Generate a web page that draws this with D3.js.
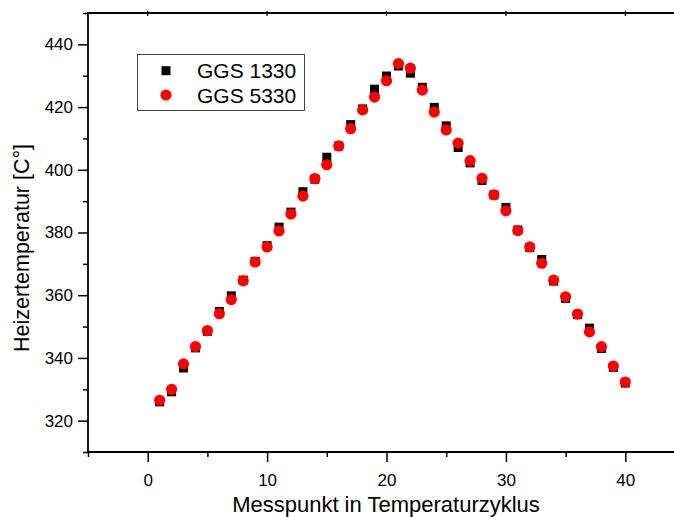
<!DOCTYPE html>
<html>
<head>
<meta charset="utf-8">
<script src="https://cdn.jsdelivr.net/npm/d3@7"></script>
<style>
  html, body { margin: 0; padding: 0; background: #fff; }
  svg { display: block; }
  text { font-family: "Liberation Sans", Arial, sans-serif; fill: #000; }
</style>
</head>
<body>
<svg id="chart" width="674" height="517"></svg>
<script>
// ---- data ----
const messpunkt = d3.range(1, 41);
const ggs1330 = [326.0, 329.2, 336.8, 343.2, 348.5, 354.8, 359.8, 364.8, 370.8, 375.8,
                 381.7, 386.5, 393.0, 397.0, 404.0, 407.6, 414.4, 419.4, 425.7, 429.9,
                 433.1, 430.8, 426.3, 419.9, 414.0, 407.1, 402.2, 396.6, 392.0, 388.0,
                 380.8, 375.2, 371.4, 364.5, 359.0, 353.8, 349.5, 343.0, 337.0, 332.0];
const ggs5330 = [326.5, 330.0, 338.1, 343.6, 348.7, 354.1, 358.6, 364.6, 370.6, 375.4,
                 380.5, 385.9, 391.6, 397.2, 401.6, 407.6, 413.1, 419.1, 423.2, 428.4,
                 433.9, 432.4, 425.4, 418.4, 412.7, 408.5, 402.9, 397.3, 392.0, 386.9,
                 380.6, 375.4, 370.2, 364.8, 359.5, 354.0, 348.3, 343.6, 337.4, 332.3];
const seriesNames = ["GGS 1330", "GGS 5330"];
const xMajorTicks = [0, 10, 20, 30, 40];
const xMinorTicks = [-5, 5, 15, 25, 35, 45];
const yMajorTicks = [320, 340, 360, 380, 400, 420, 440];
const yMinorTicks = [310, 330, 350, 370, 390, 410, 430, 450];
const xTitle = "Messpunkt in Temperaturzyklus";
const yTitle = "Heizertemperatur [C°]";

(function () {
// ---- layout ----
const W = 674, H = 517;
const padL = 88, padT = 13, padB = 452;
const svg = d3.select("#chart");

const x = d3.scaleLinear().domain([-5, 45]).range([padL, padL + 50 * 11.94]);
const y = d3.scaleLinear().domain([310, 450]).range([padB, padT]);

const axisColor = "#000";
const font = '"Liberation Sans", Arial, sans-serif';
const g = svg.append("g");

// bottom axis
const gx = g.append("g").attr("transform", `translate(0,${padB})`)
  .call(d3.axisBottom(x).tickValues(xMajorTicks).tickSize(10).tickSizeOuter(0).tickFormat(d3.format("d")));
gx.select(".domain").remove();
gx.selectAll(".tick line").attr("stroke", axisColor).attr("stroke-width", 1.5);
gx.selectAll(".tick text").attr("font-size", 17).attr("dy", 0).attr("y", 34).style("font-family", font);
const gxm = g.append("g").attr("transform", `translate(0,${padB})`)
  .call(d3.axisBottom(x).tickValues(xMinorTicks.filter(v => x(v) <= W)).tickSize(5).tickSizeOuter(0).tickFormat(""));
gxm.select(".domain").remove();
gxm.selectAll(".tick line").attr("stroke", axisColor).attr("stroke-width", 1.5);

// left axis
const gy = g.append("g").attr("transform", `translate(${padL},0)`)
  .call(d3.axisLeft(y).tickValues(yMajorTicks).tickSize(10).tickSizeOuter(0).tickFormat(d3.format("d")));
gy.select(".domain").remove();
gy.selectAll(".tick line").attr("stroke", axisColor).attr("stroke-width", 1.5);
gy.selectAll(".tick text").attr("font-size", 17).attr("x", -15).style("font-family", font);
const gym = g.append("g").attr("transform", `translate(${padL},0)`)
  .call(d3.axisLeft(y).tickValues(yMinorTicks).tickSize(5).tickSizeOuter(0).tickFormat(""));
gym.select(".domain").remove();
gym.selectAll(".tick line").attr("stroke", axisColor).attr("stroke-width", 1.5);

// top ticks (small, crossing the frame)
g.append("g").selectAll("line").data(xMajorTicks).join("line")
  .attr("x1", d => x(d)).attr("x2", d => x(d))
  .attr("y1", padT - 2).attr("y2", padT + 3)
  .attr("stroke", axisColor).attr("stroke-width", 1.2);

// frame lines
g.append("line").attr("x1", padL).attr("x2", padL).attr("y1", padT).attr("y2", padB)
  .attr("stroke", axisColor).attr("stroke-width", 1.8);
g.append("line").attr("x1", padL - 1).attr("x2", W).attr("y1", padB).attr("y2", padB)
  .attr("stroke", axisColor).attr("stroke-width", 1.8);
g.append("line").attr("x1", padL - 1).attr("x2", W).attr("y1", padT).attr("y2", padT)
  .attr("stroke", axisColor).attr("stroke-width", 1.8);

// axis titles
svg.append("text").attr("x", 386).attr("y", 512).attr("text-anchor", "middle")
  .attr("font-size", 22).text(xTitle);
svg.append("text").attr("transform", "translate(29,248) rotate(-90)").attr("text-anchor", "middle")
  .attr("font-size", 21.5).text(yTitle);

// data
const sq = 9;
const d1 = messpunkt.map((m, i) => ({ m, v: ggs1330[i] }));
const d2 = messpunkt.map((m, i) => ({ m, v: ggs5330[i] }));
g.append("g").selectAll("rect").data(d1).join("rect")
  .attr("x", d => x(d.m) - sq / 2).attr("y", d => y(d.v) - sq / 2)
  .attr("width", sq).attr("height", sq).attr("fill", "#000");
g.append("g").selectAll("circle").data(d2).join("circle")
  .attr("cx", d => x(d.m)).attr("cy", d => y(d.v)).attr("r", 5.6).attr("fill", "#ff0000");

// legend
const lg = svg.append("g");
lg.append("rect").attr("x", 137.5).attr("y", 54.5).attr("width", 167).attr("height", 56)
  .attr("fill", "#fff").attr("stroke", "#444").attr("stroke-width", 1);
lg.append("rect").attr("x", 166 - sq / 2).attr("y", 70.7 - sq / 2).attr("width", sq).attr("height", sq).attr("fill", "#000");
lg.append("circle").attr("cx", 166).attr("cy", 95).attr("r", 5.6).attr("fill", "#ff0000");
lg.append("text").attr("x", 197).attr("y", 77.5).attr("font-size", 21).text(seriesNames[0]);
lg.append("text").attr("x", 197).attr("y", 103).attr("font-size", 21).text(seriesNames[1]);
})();
</script>
</body>
</html>
